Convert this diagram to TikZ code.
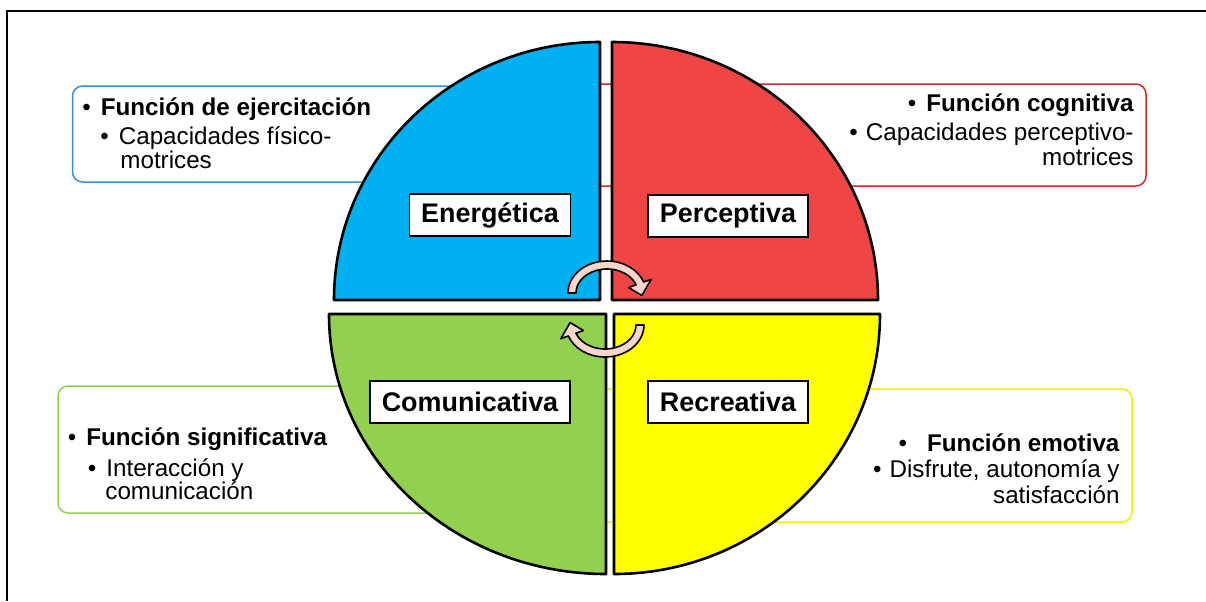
\documentclass[tikz,border=0pt]{standalone}
\usepackage{fontspec}
\setmainfont{Liberation Sans}
\usepackage{tikz}
\definecolor{colorEnergy}{HTML}{00B0F0}
\definecolor{colorPercept}{HTML}{F04545}
\definecolor{colorComm}{HTML}{92D050}
\definecolor{colorRecreat}{HTML}{FFFF00}
\definecolor{colorTurn}{HTML}{F8D6CC}
\definecolor{colorEnergyLine}{HTML}{3A8DD6}
\definecolor{colorPerceptLine}{HTML}{D02A2A}
\colorlet{colorCommLine}{colorComm}
\definecolor{colorRecreatLine}{HTML}{F0F000}
\tikzset{
  quarter/.style={draw=black, line width=1.3pt, line join=round},
  funcBox/.style={rounded corners=5pt, line width=0.75pt, inner sep=0pt},
  labelBox/.style={draw=black, fill=white, line width=0.7pt, inner xsep=6pt, inner ysep=0pt, minimum height=21pt, font=\fontsize{13.45}{15}\selectfont\bfseries},
  itemText/.style={inner sep=0pt, font=\fontsize{12.1}{14}\selectfont},
  turnArrow/.style={draw=black, fill=colorTurn, line width=0.8pt, line join=round}
}

\begin{document}
\begin{tikzpicture}[x=0.5pt, y=-0.5pt]
\useasboundingbox (0,0) rectangle (1206,601);
\draw[line width=1.2pt] (1206,11) -- (7,11) -- (7,601);

\node[funcBox, draw=colorEnergyLine, minimum width=243.5pt, minimum height=48pt] (boxEj) at (316,134) {};
\node[funcBox, draw=colorPerceptLine, minimum width=278pt, minimum height=51pt] (boxCog) at (868,135) {};
\node[funcBox, draw=colorCommLine, minimum width=251pt, minimum height=63.5pt] (boxSig) at (309,449.5) {};
\node[funcBox, draw=colorRecreatLine, minimum width=271pt, minimum height=66.5pt] (boxEmo) at (861,455.5) {};

\node[itemText, anchor=base west] (ejTitle) at (82,115) {\textbullet\hspace{5pt}\textbf{Función de ejercitación}};
\node[itemText, anchor=base west] (ejSubA) at (100,144) {\textbullet\hspace{5pt}Capacidades físico-};
\node[itemText, anchor=base west] (ejSubB) at (120,168) {motrices};
\node[itemText, anchor=base east] (cogTitle) at (1134,111.7) {\textbullet\hspace{5pt}\textbf{Función cognitiva}};
\node[itemText, anchor=base east] (cogSubA) at (1134,140) {\textbullet\hspace{4pt}Capacidades perceptivo-};
\node[itemText, anchor=base east] (cogSubB) at (1134,165) {motrices};
\node[itemText, anchor=base west] (sigTitle) at (67.5,445) {\textbullet\hspace{5pt}\textbf{Función significativa}};
\node[itemText, anchor=base west] (sigSubA) at (87.5,476.7) {\textbullet\hspace{5pt}Interacción y};
\node[itemText, anchor=base west] (sigSubB) at (105,499) {comunicación};
\node[itemText, anchor=base east] (emoTitle) at (1120,451.7) {\textbullet\hspace{10pt}\textbf{Función emotiva}};
\node[itemText, anchor=base east] (emoSubA) at (1120,477) {\textbullet\hspace{4pt}Disfrute, autonomía y};
\node[itemText, anchor=base east] (emoSubB) at (1120,503) {satisfacción};

\filldraw[quarter, fill=colorEnergy] (600,300) -- (334,300) arc[start angle=180, end angle=270, x radius=266, y radius=258] -- cycle;
\filldraw[quarter, fill=colorPercept] (612,300) -- (612,42) arc[start angle=270, end angle=360, x radius=266, y radius=258] -- cycle;
\filldraw[quarter, fill=colorComm] (606,314) -- (606,574) arc[start angle=90, end angle=180, x radius=277, y radius=260] -- cycle;
\filldraw[quarter, fill=colorRecreat] (614,314) -- (880,314) arc[start angle=0, end angle=90, x radius=266, y radius=260] -- cycle;

\node[labelBox] (energ) at (490,215) {Energética};
\node[labelBox] (percep) at (728,216) {Perceptiva};
\node[labelBox] (comun) at (470,402) {Comunicativa};
\node[labelBox] (recre) at (728,402) {Recreativa};

\coordinate (turnTop) at (607,293);
\coordinate (turnBot) at (605,325);
\filldraw[turnArrow] ([shift={(180:39 and 32)}]turnTop) arc[start angle=180, end angle=340, x radius=39, y radius=32] -- ([shift={(340:47 and 40)}]turnTop) -- ([shift={(5:35 and 28)}]turnTop) -- ([shift={(340:23 and 16)}]turnTop) -- ([shift={(340:31 and 24)}]turnTop) arc[start angle=340, end angle=180, x radius=31, y radius=24] -- cycle;
\filldraw[turnArrow] ([shift={(0:39 and 32)}]turnBot) arc[start angle=0, end angle=160, x radius=39, y radius=32] -- ([shift={(160:47 and 40)}]turnBot) -- ([shift={(185:35 and 28)}]turnBot) -- ([shift={(160:23 and 16)}]turnBot) -- ([shift={(160:31 and 24)}]turnBot) arc[start angle=160, end angle=0, x radius=31, y radius=24] -- cycle;
\end{tikzpicture}
\end{document}
